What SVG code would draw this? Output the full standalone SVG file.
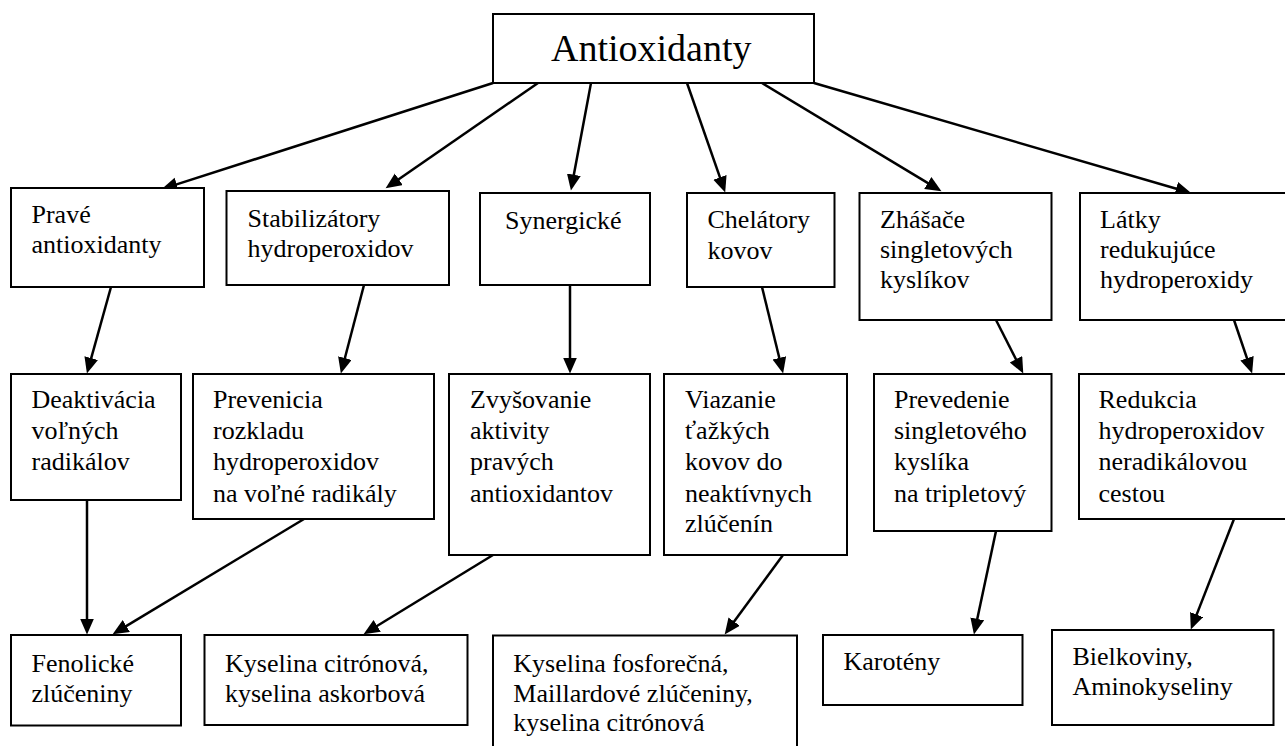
<svg xmlns="http://www.w3.org/2000/svg" width="1285" height="746" viewBox="0 0 1285 746">
<style>
.box{fill:#fff;stroke:#000;stroke-width:2}
text{font-family:"Liberation Serif","Times New Roman",serif;font-size:26px;fill:#000}
.t{font-size:38px}
#conn line{stroke:#000;stroke-width:2.5;marker-end:url(#ah)}
</style>
<defs>
<marker id="ah" markerUnits="userSpaceOnUse" markerWidth="17" markerHeight="15" refX="7.5" refY="7" orient="auto">
<path d="M0,0 L16,7 L0,14 z" fill="#000"/>
</marker>
</defs>
<rect x="0" y="0" width="1285" height="746" fill="#fff"/>
<g id="conn">
<line x1="493" y1="83" x2="169.6" y2="186.6"/>
<line x1="538" y1="83" x2="392.6" y2="183.5"/>
<line x1="591" y1="83" x2="572.5" y2="182.1"/>
<line x1="687" y1="83" x2="722.4" y2="184.4"/>
<line x1="762" y1="83" x2="934.2" y2="186.9"/>
<line x1="814" y1="83" x2="1183.3" y2="190.8"/>
<line x1="111" y1="287" x2="89.2" y2="365.3"/>
<line x1="364" y1="285" x2="343" y2="365.3"/>
<line x1="570" y1="285" x2="570" y2="365"/>
<line x1="762" y1="287" x2="781.1" y2="365.2"/>
<line x1="996" y1="320" x2="1019.4" y2="365.9"/>
<line x1="1234" y1="320" x2="1249.4" y2="365.4"/>
<line x1="87" y1="500" x2="87" y2="626"/>
<line x1="304" y1="519" x2="119.9" y2="629.9"/>
<line x1="493" y1="555" x2="370.8" y2="629.8"/>
<line x1="783" y1="555" x2="729.7" y2="627.6"/>
<line x1="996" y1="531" x2="975.7" y2="626.2"/>
<line x1="1234" y1="519" x2="1193.9" y2="621.6"/>
</g>
<g id="root"><rect class="box" x="493" y="14" width="321" height="69"/><text class="t" x="551" y="61">Antioxidanty</text></g>
<g id="prave"><rect class="box" x="11" y="188" width="193" height="99"/><text x="31.5" y="222.7">Pravé<tspan x="31.5" y="253.3">antioxidanty</tspan></text></g>
<g id="stabil"><rect class="box" x="226.5" y="191" width="222.5" height="94"/><text x="247.5" y="226.7">Stabilizátory<tspan x="247.5" y="256.7">hydroperoxidov</tspan></text></g>
<g id="synerg"><rect class="box" x="480" y="193" width="170" height="92"/><text x="505" y="228.7">Synergické</text></g>
<g id="chelat"><rect class="box" x="687" y="193" width="147.5" height="94"/><text x="707.5" y="227.7">Chelátory<tspan x="707.5" y="259">kovov</tspan></text></g>
<g id="zhasace"><rect class="box" x="859.5" y="193" width="192" height="127"/><text x="880" y="227.7">Zhášače<tspan x="880" y="258.3">singletových</tspan><tspan x="880" y="288.3">kyslíkov</tspan></text></g>
<g id="latky"><rect class="box" x="1080" y="193" width="215" height="127"/><text x="1100" y="227.7">Látky<tspan x="1100" y="258.3">redukujúce</tspan><tspan x="1100" y="288.3">hydroperoxidy</tspan></text></g>
<g id="deakt"><rect class="box" x="11" y="374" width="170" height="126"/><text x="31.5" y="408.3">Deaktivácia<tspan x="31.5" y="439">voľných</tspan><tspan x="31.5" y="470">radikálov</tspan></text></g>
<g id="preven"><rect class="box" x="193" y="374" width="241" height="145"/><text x="213" y="408.3">Prevenicia<tspan x="213" y="439">rozkladu</tspan><tspan x="213" y="470">hydroperoxidov</tspan><tspan x="213" y="501.5">na voľné radikály</tspan></text></g>
<g id="zvys"><rect class="box" x="449" y="374" width="201" height="181"/><text x="470" y="408.3">Zvyšovanie<tspan x="470" y="439">aktivity</tspan><tspan x="470" y="470">pravých</tspan><tspan x="470" y="501.5">antioxidantov</tspan></text></g>
<g id="viaz"><rect class="box" x="664" y="374" width="183" height="181"/><text x="685" y="408.3">Viazanie<tspan x="685" y="439">ťažkých</tspan><tspan x="685" y="470">kovov do</tspan><tspan x="685" y="501.5">neaktívnych</tspan><tspan x="685" y="531.7">zlúčenín</tspan></text></g>
<g id="preved"><rect class="box" x="874" y="374" width="177.5" height="157"/><text x="894" y="408.3">Prevedenie<tspan x="894" y="439">singletového</tspan><tspan x="894" y="470">kyslíka</tspan><tspan x="894" y="501.5">na tripletový</tspan></text></g>
<g id="reduk"><rect class="box" x="1079" y="374" width="216" height="145"/><text x="1098.5" y="408.3">Redukcia<tspan x="1098.5" y="439">hydroperoxidov</tspan><tspan x="1098.5" y="470">neradikálovou</tspan><tspan x="1098.5" y="501.5">cestou</tspan></text></g>
<g id="fenol"><rect class="box" x="11" y="635" width="170" height="90.5"/><text x="31.5" y="671.7">Fenolické<tspan x="31.5" y="701.7">zlúčeniny</tspan></text></g>
<g id="kcitr"><rect class="box" x="204.5" y="635" width="263" height="90"/><text x="225" y="671.7">Kyselina citrónová,<tspan x="225" y="701.7">kyselina askorbová</tspan></text></g>
<g id="kfosf"><rect class="box" x="493" y="635.5" width="304" height="130"/><text x="513.3" y="671.7">Kyselina fosforečná,<tspan x="513.3" y="701.7">Maillardové zlúčeniny,</tspan><tspan x="513.3" y="731">kyselina citrónová</tspan></text></g>
<g id="karot"><rect class="box" x="823" y="635" width="199.5" height="70"/><text x="843.5" y="670">Karotény</text></g>
<g id="bielk"><rect class="box" x="1052" y="630" width="221.5" height="95"/><text x="1072.4" y="665">Bielkoviny,<tspan x="1072.4" y="695">Aminokyseliny</tspan></text></g>
</svg>
